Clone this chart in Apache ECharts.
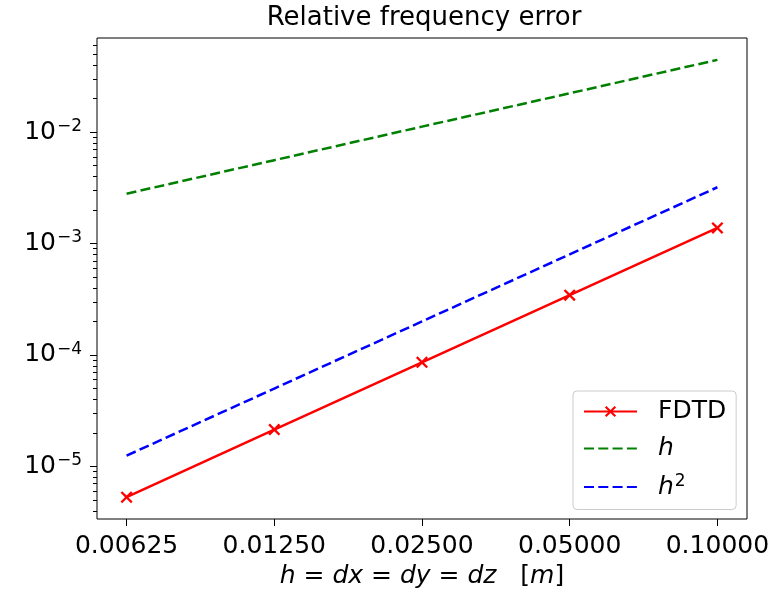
<!DOCTYPE html>
<html>
<head>
<meta charset="utf-8">
<script src="https://cdn.jsdelivr.net/npm/echarts@6/dist/echarts.min.js"></script>
<style>
html, body { margin: 0; padding: 0; background: #fff; }
#box { width: 776px; height: 594px; }
</style>
</head>
<body>
<div id="box"></div>
<script>
// grid spacing h and the measured / reference errors
var hValues = [0.00625, 0.0125, 0.025, 0.05, 0.1];
var xTickLabels = ['0.00625', '0.01250', '0.02500', '0.05000', '0.10000'];
var fdtdError = [5.3e-6, 2.14e-5, 8.6e-5, 3.44e-4, 1.38e-3];
var hRef = [0.0028, 0.0056, 0.0112, 0.0223, 0.0445];
var h2Ref = [1.25e-5, 5.0e-5, 2.0e-4, 8.0e-4, 3.2e-3];
var yMajorTicks = [1e-5, 1e-4, 1e-3, 1e-2];
var yMinorTicks = [
    4e-6, 5e-6, 6e-6, 7e-6, 8e-6, 9e-6,
    2e-5, 3e-5, 4e-5, 5e-5, 6e-5, 7e-5, 8e-5, 9e-5,
    2e-4, 3e-4, 4e-4, 5e-4, 6e-4, 7e-4, 8e-4, 9e-4,
    2e-3, 3e-3, 4e-3, 5e-3, 6e-3, 7e-3, 8e-3, 9e-3,
    2e-2, 3e-2, 4e-2, 5e-2, 6e-2
];

var FONT = 'DejaVu Sans';
// "x" marker as a filled cross
var xSymbol = 'path://M0,1.6L1.6,0L6,4.4L10.4,0L12,1.6L7.6,6L12,10.4L10.4,12L6,7.6L1.6,12L0,10.4L4.4,6Z';

function pairs(ys) {
    return hValues.map(function (x, i) { return [x, ys[i]]; });
}

var myChart = echarts.init(document.getElementById('box'));

var option = {
    backgroundColor: '#ffffff',
    animation: false,
    title: {
        text: 'Relative frequency error',
        left: 419,
        top: 0,
        textAlign: 'center',
        textStyle: { fontFamily: FONT, fontSize: 26, fontWeight: 'normal', color: '#000' }
    },
    grid: {
        left: 97, right: 29, top: 38, bottom: 73,
        show: true, borderColor: '#000', borderWidth: 1, backgroundColor: 'transparent'
    },
    legend: {
        orient: 'vertical',
        left: 573,
        top: 391,
        itemWidth: 53,
        itemHeight: 14,
        itemGap: 12,
        padding: [8, 10, 10, 10],
        backgroundColor: 'rgba(255,255,255,0.8)',
        borderColor: '#cccccc',
        borderWidth: 1,
        borderRadius: 4,
        data: [
            'FDTD',
            { name: 'h', itemStyle: { opacity: 0 } },
            { name: 'h^2', itemStyle: { opacity: 0 } }
        ],
        formatter: function (name) {
            if (name === 'h') return '{i|h}';
            if (name === 'h^2') return '{i|h}{s|2}';
            return '{n|' + name + '}';
        },
        textStyle: {
            fontFamily: FONT, fontSize: 25, color: '#000',
            rich: {
                n: { fontFamily: FONT, fontSize: 25, padding: [0, 0, 0, 16] },
                i: { fontFamily: FONT, fontSize: 25, fontStyle: 'italic', padding: [0, 0, 0, 16] },
                s: { fontFamily: FONT, fontSize: 17, padding: [0, 0, 11, 1] }
            }
        }
    },
    xAxis: {
        type: 'log',
        logBase: 2,
        min: 0.00544,
        max: 0.1149,
        name: '{i|h} = {i|dx} = {i|dy} = {i|dz}   [{i|m}]',
        nameLocation: 'middle',
        nameGap: 45,
        nameTextStyle: {
            fontFamily: FONT, fontSize: 25, color: '#000',
            rich: { i: { fontFamily: FONT, fontSize: 25, fontStyle: 'italic', color: '#000' } }
        },
        axisLine: { show: false },
        splitLine: { show: false },
        axisTick: { customValues: hValues, length: 7, lineStyle: { color: '#000', width: 1 } },
        axisLabel: {
            customValues: hValues,
            margin: 15,
            fontFamily: FONT, fontSize: 25, color: '#000',
            formatter: function (v) {
                var best = 0;
                hValues.forEach(function (h, i) {
                    if (Math.abs(Math.log(h / v)) < Math.abs(Math.log(hValues[best] / v))) best = i;
                });
                return xTickLabels[best];
            }
        }
    },
    yAxis: [{
        type: 'log',
        min: 3.375e-6,
        max: 0.0699,
        position: 'left',
        axisLine: { show: false },
        splitLine: { show: false },
        axisTick: { customValues: yMajorTicks, length: 7, lineStyle: { color: '#000', width: 1 } },
        axisLabel: {
            customValues: yMajorTicks,
            margin: 15,
            fontFamily: FONT, fontSize: 25, color: '#000',
            formatter: function (v) {
                var e = Math.round(Math.log10(v));
                return '10{sup|\u2212' + Math.abs(e) + '}';
            },
            rich: {
                sup: { fontFamily: FONT, fontSize: 17, color: '#000', padding: [0, 0, 11, 1] }
            }
        }
    }, {
        // minor ticks only
        type: 'log',
        min: 3.375e-6,
        max: 0.0699,
        position: 'left',
        axisLine: { show: false },
        splitLine: { show: false },
        axisTick: { customValues: yMinorTicks, length: 4, lineStyle: { color: '#000', width: 1 } },
        axisLabel: { show: false }
    }],
    series: [{
        name: 'FDTD',
        type: 'line',
        data: pairs(fdtdError),
        symbol: xSymbol,
        symbolSize: 12,
        color: '#ff0000',
        itemStyle: { color: '#ff0000' },
        lineStyle: { color: '#ff0000', width: 2.5 },
        z: 3
    }, {
        name: 'h',
        type: 'line',
        data: pairs(hRef),
        symbol: 'none',
        color: '#008000',
        lineStyle: { color: '#008000', width: 2.5, type: [10, 4.3] }
    }, {
        name: 'h^2',
        type: 'line',
        data: pairs(h2Ref),
        symbol: 'none',
        color: '#0000ff',
        lineStyle: { color: '#0000ff', width: 2.5, type: [10, 4.3] }
    }]
};

myChart.setOption(option);
</script>
</body>
</html>
